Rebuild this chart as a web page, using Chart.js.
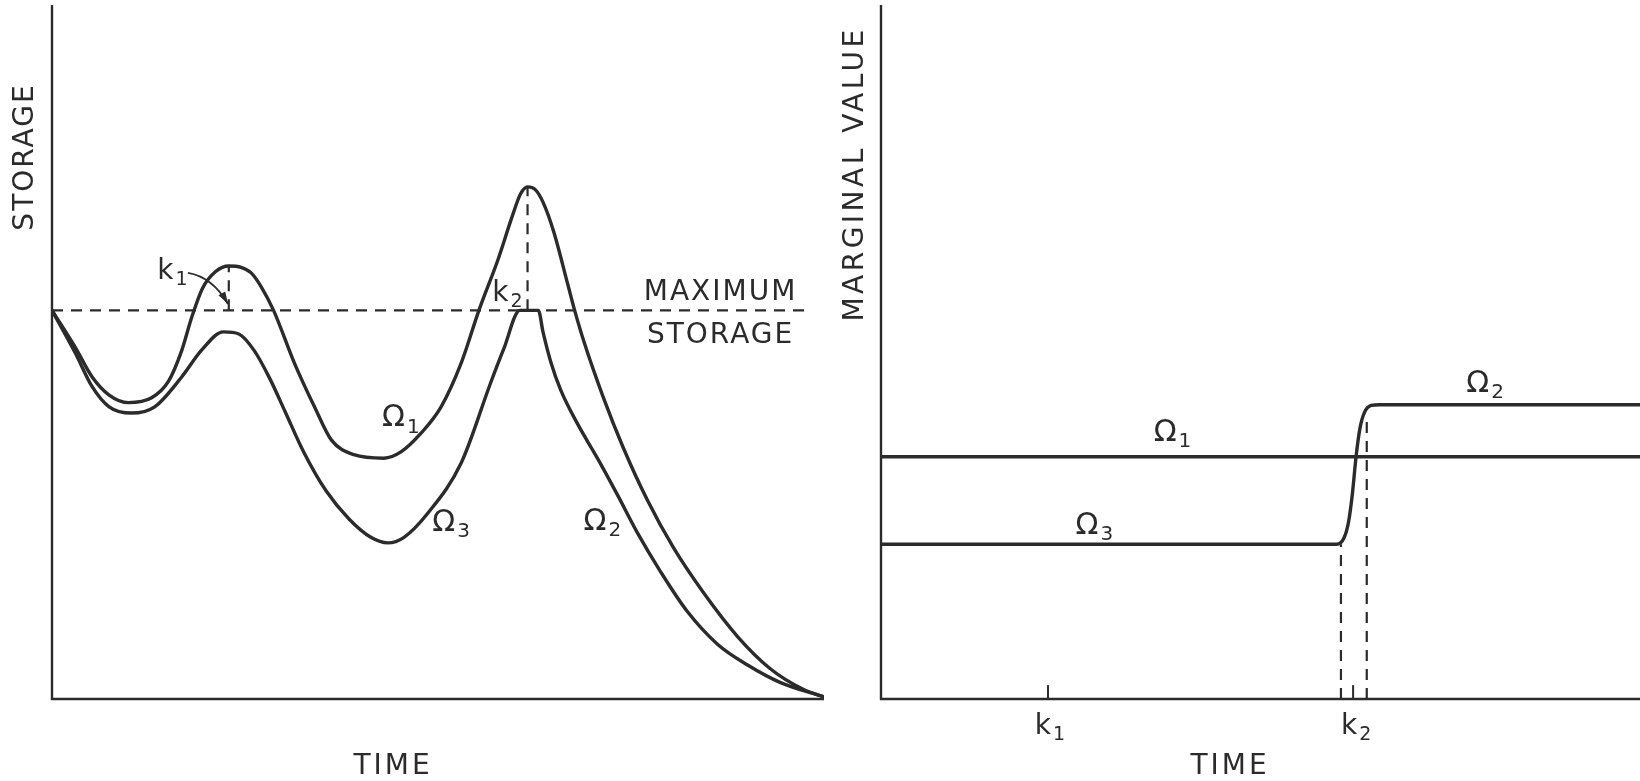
<!DOCTYPE html>
<html>
<head>
<meta charset="utf-8">
<title>Storage and marginal value</title>
<script src="https://cdn.jsdelivr.net/npm/chart.js@4.4.1/dist/chart.umd.min.js"></script>
<style>
  body { margin: 0; background: #fff; }
  .panel { position: absolute; top: 0; height: 781px; }
  #wrapLeft { left: 0; width: 840px; }
  #wrapRight { left: 840px; width: 800px; }
</style>
</head>
<body>
<div class="panel" id="wrapLeft"><canvas id="storageChart"></canvas></div>
<div class="panel" id="wrapRight"><canvas id="valueChart"></canvas></div>
<script>
// ---- left panel: storage against time (0..100 units) ----
const timeOmega1 = [0, 3.0, 5.2, 7.4, 9.9, 12.9, 15.1, 16.8, 18.1, 19.5, 21.2, 22.9, 24.5, 25.8, 27.1, 28.7, 31.4, 34.0, 36.2, 39.1, 43.0, 45.2, 47.8, 50.4, 53.0, 55.3, 57.8, 59.6, 60.7, 61.6, 62.6, 63.6, 65.0, 66.8, 67.7, 68.9, 71.4, 74.0, 77.1, 80.5, 84.4, 88.8, 93.0, 97.3, 100];
const storageOmega1 = [56, 50.7, 46.4, 43.8, 42.7, 43.4, 45.8, 50.2, 55.0, 59.2, 61.6, 62.4, 62.2, 61.4, 59.4, 56, 48.4, 42.1, 37.3, 35.2, 34.7, 35.6, 38.3, 42.1, 48.4, 56, 63.4, 69.5, 72.8, 73.8, 73.4, 71.6, 67.3, 59.8, 56, 51.5, 43.5, 36.2, 28.7, 21.8, 15.3, 9.0, 4.4, 1.4, 0.3];

// omega3 up to k2, then omega2 (held at maximum storage, then drawn down)
const timeOmega3 = [0, 3.0, 5.2, 7.4, 10.3, 13.3, 16.8, 19.4, 22.2, 24.2, 26.2, 28.2, 30.2, 32.6, 35.5, 38.5, 41.3, 43.5, 45.6, 48.7, 53.0, 56.8, 58.5, 60.6, 63.0, 63.6, 64.6, 65.9, 68.1, 70.7, 73.3, 75.8, 78.8, 82.3, 86.2, 90.1, 94.3, 100];
const storageOmega3 = [56, 49.9, 45, 42.1, 41.2, 42.1, 46.4, 50.3, 52.9, 52.6, 50.2, 46.2, 41.4, 35.6, 30.0, 25.9, 23.3, 22.5, 23.3, 26.8, 34, 45.5, 50.4, 56, 56, 52.9, 48.6, 44.5, 39.6, 34.6, 29.3, 24.0, 18.4, 12.6, 7.9, 4.9, 2.4, 0.3];

const maxStorage = 56;
const maxStorageEnd = 97.5;
const kTimesLeft = [22.9, 61.6];
const kPeaksLeft = [62.4, 73.8];

// ---- right panel: marginal value against time ----
const mvOmega1 = 34.9;
const mvTime3 = [0, 60.0, 61.0, 61.6, 62.1, 62.6, 63.1, 63.7, 64.6, 65.7, 100];
const mvOmega3 = [22.3, 22.3, 23.2, 25.5, 29.5, 35, 39.0, 41.3, 42.3, 42.4, 42.4];
const mvDashTimes = [60.6, 64.0];
const mvDashTops = [22.3, 40.9];
const kTickTimes = [22.0, 62.2];
const kTickHeight = 2;

const INK = '#2b2b2b';
const FONT = '"DejaVu Sans", sans-serif';

function pts(xs, ys) {
    return xs.map((x, i) => ({ x: x, y: ys[i] }));
}

function curve(data, width) {
    return {
        data: data,
        borderColor: INK,
        borderWidth: width || 3.4,
        pointRadius: 0,
        fill: false,
        cubicInterpolationMode: 'monotone'
    };
}

function dashed(data) {
    return {
        data: data,
        borderColor: INK,
        borderWidth: 2.2,
        borderDash: [11, 8],
        pointRadius: 0,
        fill: false,
        tension: 0
    };
}

function baseOptions(pad) {
    return {
        responsive: true,
        maintainAspectRatio: false,
        animation: false,
        layout: { padding: pad },
        plugins: { legend: { display: false }, tooltip: { enabled: false } },
        scales: {
            x: { type: 'linear', min: 0, max: 100, display: false },
            y: { min: 0, max: 100, display: false }
        }
    };
}

// text helpers
function txt(ctx, s, x, y, size, spacing) {
    ctx.font = size + 'px ' + FONT;
    ctx.letterSpacing = (spacing || 0) + 'px';
    ctx.fillText(s, x, y);
    ctx.letterSpacing = '0px';
}

// letter with a subscript, centred on (cx, cy)
function subLabel(ctx, base, sub, cx, cy, size) {
    ctx.font = size + 'px ' + FONT;
    const wb = ctx.measureText(base).width;
    ctx.font = Math.round(size * 0.68) + 'px ' + FONT;
    const ws = ctx.measureText(sub).width;
    const x0 = cx - (wb + ws + 2) / 2;
    ctx.textAlign = 'left';
    ctx.font = size + 'px ' + FONT;
    ctx.fillText(base, x0, cy);
    ctx.font = Math.round(size * 0.68) + 'px ' + FONT;
    ctx.fillText(sub, x0 + wb + 2, cy + size * 0.3);
    ctx.textAlign = 'center';
}

function drawAxes(chart) {
    const ctx = chart.ctx, a = chart.chartArea;
    ctx.save();
    ctx.strokeStyle = INK;
    ctx.lineWidth = 2.4;
    ctx.beginPath();
    ctx.moveTo(a.left, a.top);
    ctx.lineTo(a.left, a.bottom);
    ctx.lineTo(a.right, a.bottom);
    ctx.stroke();
    ctx.restore();
}

const storageDeco = {
    id: 'storageDeco',
    afterDatasetsDraw(chart) {
        const ctx = chart.ctx;
        const xs = chart.scales.x, ys = chart.scales.y;
        const X = v => xs.getPixelForValue(v), Y = v => ys.getPixelForValue(v);
        drawAxes(chart);
        ctx.save();
        ctx.fillStyle = INK;
        ctx.textAlign = 'center';
        ctx.textBaseline = 'middle';

        // axis titles
        ctx.save();
        ctx.translate(26, 157);
        ctx.rotate(-Math.PI / 2);
        txt(ctx, 'STORAGE', 0, 0, 28, 2);
        ctx.restore();
        txt(ctx, 'TIME', 393, 767, 28, 3);

        txt(ctx, 'MAXIMUM', X(86.6), Y(58.6), 28, 2);
        txt(ctx, 'STORAGE', X(86.6), Y(52.3), 28, 2);

        subLabel(ctx, 'Ω', '1', X(45.2), Y(40.4), 30);
        subLabel(ctx, 'Ω', '3', X(51.7), Y(25.4), 30);
        subLabel(ctx, 'Ω', '2', X(71.3), Y(25.5), 30);
        subLabel(ctx, 'k', '1', X(15.6), Y(61.6), 28);
        subLabel(ctx, 'k', '2', X(59.0), Y(58.4), 28);

        // arrow from k1 down to the maximum-storage line
        const sx = X(17.6), sy = Y(61.4), cx = X(20.8), cy = Y(60.8), ex = X(22.8), ey = Y(56.9);
        ctx.strokeStyle = INK;
        ctx.lineWidth = 2;
        ctx.beginPath();
        ctx.moveTo(sx, sy);
        ctx.quadraticCurveTo(cx, cy, ex, ey);
        ctx.stroke();
        const ang = Math.atan2(ey - cy, ex - cx);
        ctx.beginPath();
        ctx.moveTo(ex, ey);
        ctx.lineTo(ex - 13 * Math.cos(ang - 0.3), ey - 13 * Math.sin(ang - 0.3));
        ctx.lineTo(ex - 13 * Math.cos(ang + 0.3), ey - 13 * Math.sin(ang + 0.3));
        ctx.closePath();
        ctx.fill();
        ctx.restore();
    }
};

const valueDeco = {
    id: 'valueDeco',
    afterDatasetsDraw(chart) {
        const ctx = chart.ctx;
        const xs = chart.scales.x, ys = chart.scales.y;
        const X = v => xs.getPixelForValue(v), Y = v => ys.getPixelForValue(v);
        drawAxes(chart);
        ctx.save();
        ctx.fillStyle = INK;
        ctx.textAlign = 'center';
        ctx.textBaseline = 'middle';

        ctx.save();
        ctx.translate(16, 174);
        ctx.rotate(-Math.PI / 2);
        txt(ctx, 'MARGINAL VALUE', 0, 0, 28, 3.5);
        ctx.restore();
        txt(ctx, 'TIME', 390, 767, 28, 3);

        subLabel(ctx, 'k', '1', X(kTickTimes[0]) + 2, 727, 28);
        subLabel(ctx, 'k', '2', X(kTickTimes[1]) + 3, 727, 28);

        subLabel(ctx, 'Ω', '1', X(38.4), Y(38.3), 30);
        subLabel(ctx, 'Ω', '3', X(28.1), Y(24.9), 30);
        subLabel(ctx, 'Ω', '2', X(79.6), Y(45.4), 30);
        ctx.restore();
    }
};

// left chart
const leftSets = [
    curve(pts(timeOmega1, storageOmega1)),
    curve(pts(timeOmega3, storageOmega3)),
    dashed([{ x: 0, y: maxStorage }, { x: maxStorageEnd, y: maxStorage }])
];
kTimesLeft.forEach((t, i) => {
    leftSets.push(dashed([{ x: t, y: maxStorage }, { x: t, y: kPeaksLeft[i] }]));
});

new Chart(document.getElementById('storageChart'), {
    type: 'line',
    data: { datasets: leftSets },
    options: baseOptions({ left: 52, right: 16, top: 5, bottom: 82 }),
    plugins: [storageDeco]
});

// right chart
const rightSets = [
    curve([{ x: 0, y: mvOmega1 }, { x: 100, y: mvOmega1 }]),
    curve(pts(mvTime3, mvOmega3))
];
mvDashTimes.forEach((t, i) => {
    rightSets.push(dashed([{ x: t, y: 0 }, { x: t, y: mvDashTops[i] }]));
});
kTickTimes.forEach(t => {
    rightSets.push(curve([{ x: t, y: 0 }, { x: t, y: kTickHeight }], 2));
});

new Chart(document.getElementById('valueChart'), {
    type: 'line',
    data: { datasets: rightSets },
    options: baseOptions({ left: 41, right: 0, top: 5, bottom: 82 }),
    plugins: [valueDeco]
});
</script>
</body>
</html>
